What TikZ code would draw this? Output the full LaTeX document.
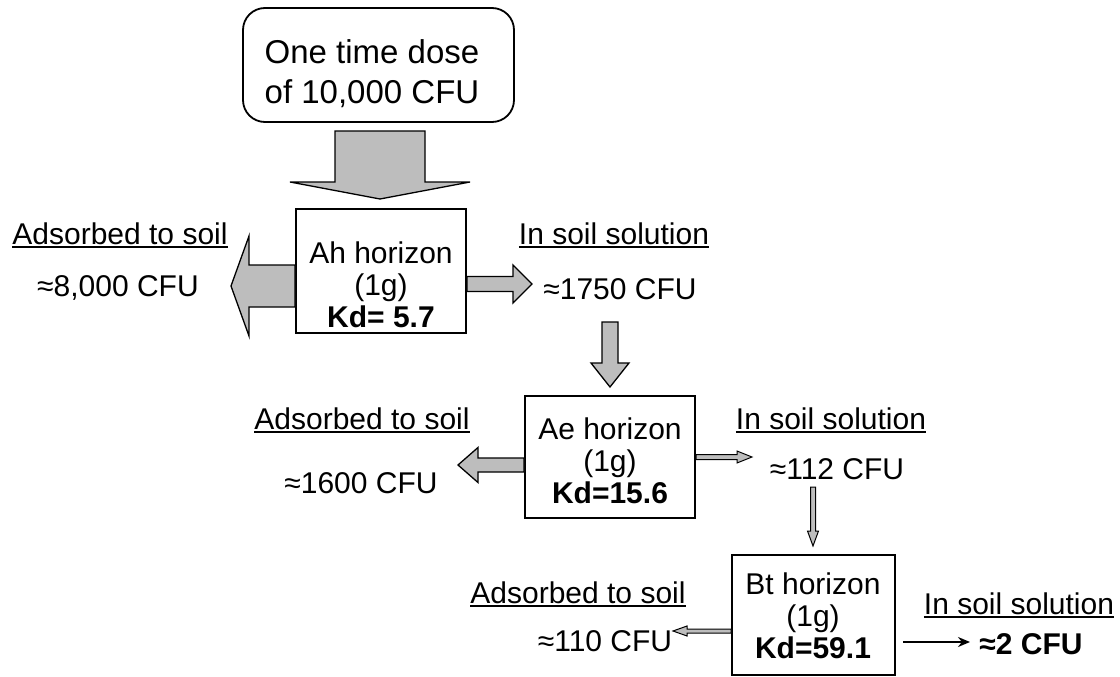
\documentclass[tikz,border=0pt]{standalone}
\usepackage{fontspec}
\setmainfont{Liberation Sans}
\usetikzlibrary{calc,arrows.meta}
\definecolor{agray}{gray}{0.74}
\newcommand\myul[1]{\setbox0\hbox{#1}\rlap{\rule[-4pt]{\wd0}{1.8pt}}\box0}
\begin{document}
\begin{tikzpicture}[x=1pt,y=-1pt,
  lbl/.style={font=\fontsize{30}{31}\selectfont, inner sep=0pt, anchor=base},
  boxtxt/.style={font=\fontsize{30}{32}\selectfont, align=center, inner sep=0pt},
  dosetxt/.style={font=\fontsize{33}{40}\selectfont, align=center, inner sep=0pt},
  hbox/.style={draw, line width=2pt, inner sep=0pt},
  dosebox/.style={draw, line width=1.8pt, rounded corners=22pt, inner sep=0pt,
    minimum width=271pt, minimum height=114pt},
  barrow/.style n args={3}{draw=black, line width=1.3pt, fill=agray,
    to path={coordinate (tmpS) (\tikztotarget) coordinate (tmpT)
      ($(tmpT)!#3!(tmpS)$) coordinate (tmpH)
      ($(tmpS)!#1!90:(tmpT)$) -- ($(tmpH)!#1!-90:(tmpS)$) -- ($(tmpH)!#2!-90:(tmpS)$)
      -- (tmpT) -- ($(tmpH)!#2!90:(tmpS)$) -- ($(tmpH)!#1!90:(tmpS)$)
      -- ($(tmpS)!#1!-90:(tmpT)$) -- cycle}},
  thin/.style={line width=1pt}
]
\useasboundingbox[fill=white] (0,0) rectangle (1120,677);

% top dose box
\node[dosebox] (dose) at (378.5,65) {};
\node[dosetxt] (doseT) at (372,74) {One time dose\\of 10,000 CFU};

% boxes
\node[hbox, minimum width=170pt, minimum height=124pt] (ah) at (381,271) {};
\node[boxtxt] (ahT) at (381,285) {Ah horizon\\(1g)\\\textbf{Kd= 5.7}};
\node[hbox, minimum width=170pt, minimum height=122pt] (ae) at (610,457) {};
\node[boxtxt] (aeT) at (610,461) {Ae horizon\\(1g)\\\textbf{Kd=15.6}};
\node[hbox, minimum width=163pt, minimum height=120pt] (bt) at (813.5,615) {};
\node[boxtxt] (btT) at (813,616) {Bt horizon\\(1g)\\\textbf{Kd=59.1}};

% labels row 1
\node[lbl] (ads1) at (120,244) {\myul{Adsorbed to soil}};
\node[lbl] (v1) at (118,296) {≈8,000 CFU};
\node[lbl] (sol1) at (614,244) {\myul{In soil solution}};
\node[lbl] (w1) at (620,299) {≈1750 CFU};
% labels row 2
\node[lbl] (ads2) at (362,429) {\myul{Adsorbed to soil}};
\node[lbl] (v2) at (361,493) {≈1600 CFU};
\node[lbl] (sol2) at (831,429) {\myul{In soil solution}};
\node[lbl] (w2) at (837,479) {≈112 CFU};
% labels row 3
\node[lbl] (ads3) at (578,603) {\myul{Adsorbed to soil}};
\node[lbl] (v3) at (605,651) {≈110 CFU};
\node[lbl] (sol3) at (1019,614) {\myul{In soil solution}};
\node[lbl, font=\fontsize{30}{31}\selectfont\bfseries] (w3) at (1031,654) {≈2 CFU};

% arrow end points
\coordinate (bigtail) at (380,131);
\coordinate (bigtip) at (380,199);
\coordinate (a1tip) at (231,286);
\coordinate (s1tip) at (532,284);
\coordinate (d2tail) at (610,322);
\coordinate (d2tip) at (610,387);
\coordinate (a2tip) at (458,465);
\coordinate (s2tip) at (752,457);
\coordinate (d3tail) at (813,487);
\coordinate (d3tip) at (813,546);
\coordinate (a3tip) at (673,631);
\coordinate (s3tail) at (903,642);
\coordinate (s3tip) at (970,642);

% block arrows
\draw[barrow={45pt}{90pt}{17pt}] (bigtail) to (bigtip);
\draw[barrow={21pt}{50pt}{18pt}] ($(ah.west)+(0,15)$) to (a1tip);
\draw[barrow={7.5pt}{19pt}{19pt}] ($(ah.east)+(0,13)$) to (s1tip);
\draw[barrow={8pt}{19pt}{24pt}] (d2tail) to (d2tip);
\draw[barrow={7pt}{17.5pt}{20pt}] ($(ae.west)+(0,8)$) to (a2tip);
\draw[barrow={2.5pt}{6pt}{15pt}, thin] (ae.east) to (s2tip);
\draw[barrow={2.5pt}{5.5pt}{15pt}, thin] (d3tail) to (d3tip);
\draw[barrow={2pt}{5pt}{14pt}, thin] ($(bt.west)+(0,16)$) to (a3tip);
\draw[line width=1.8pt, -{Stealth[length=12pt,width=10pt]}] (s3tail) to (s3tip);
\end{tikzpicture}
\end{document}
